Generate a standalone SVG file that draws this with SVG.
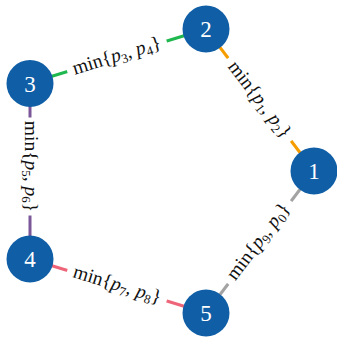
<svg xmlns="http://www.w3.org/2000/svg" width="337" height="339" viewBox="0 0 337 339">
  <style>
    .node circle { fill: #0f5ea6; }
    .node text { fill: #ffffff; font-family: "Liberation Serif", "DejaVu Serif", serif; font-size: 23px; text-anchor: middle; }
    .edge { stroke-width: 3; fill: none; }
    .lbl rect { fill: #ffffff; }
    .lbl text { fill: #111111; font-family: "Liberation Serif", "DejaVu Serif", serif; font-size: 19.5px; text-anchor: middle; }
    .it { font-style: italic; }
    .sub { font-size: 13px; }
  </style>
  <rect width="337" height="339" fill="#ffffff"/>

  <!-- connectors with their sloped labels -->
  <g id="connectors">
    <line class="edge" x1="206" y1="29" x2="314" y2="171" stroke="#f59d00"/>
    <line class="edge" x1="206" y1="29" x2="30" y2="83" stroke="#1fb84f"/>
    <line class="edge" x1="30" y1="83" x2="30" y2="259" stroke="#7b5799"/>
    <line class="edge" x1="30" y1="259" x2="206" y2="313" stroke="#ee6579"/>
    <line class="edge" x1="206" y1="313" x2="314" y2="171" stroke="#a3a3a3"/>

    <g class="lbl" transform="translate(117,56.5) rotate(-17.06)">
      <rect x="-52" y="-12" width="104" height="24"/>
      <text y="5">min{<tspan class="it">p</tspan><tspan class="sub" dy="3.5">3</tspan><tspan dy="-3.5">, </tspan><tspan class="it">p</tspan><tspan class="sub" dy="3.5">4</tspan><tspan dy="-3.5">}</tspan></text>
    </g>
    <g class="lbl" transform="translate(259,100) rotate(52.7)">
      <rect x="-52" y="-12" width="104" height="24"/>
      <text y="5">min{<tspan class="it">p</tspan><tspan class="sub" dy="3.5">1</tspan><tspan dy="-3.5">, </tspan><tspan class="it">p</tspan><tspan class="sub" dy="3.5">2</tspan><tspan dy="-3.5">}</tspan></text>
    </g>
    <g class="lbl" transform="translate(30,166.5) rotate(90)">
      <rect x="-49" y="-12" width="98" height="24"/>
      <text y="5">min{<tspan class="it">p</tspan><tspan class="sub" dy="3.5">5</tspan><tspan dy="-3.5">, </tspan><tspan class="it">p</tspan><tspan class="sub" dy="3.5">6</tspan><tspan dy="-3.5">}</tspan></text>
    </g>
    <g class="lbl" transform="translate(117,285.5) rotate(17.06)">
      <rect x="-52" y="-12" width="104" height="24"/>
      <text y="5">min{<tspan class="it">p</tspan><tspan class="sub" dy="3.5">7</tspan><tspan dy="-3.5">, </tspan><tspan class="it">p</tspan><tspan class="sub" dy="3.5">8</tspan><tspan dy="-3.5">}</tspan></text>
    </g>
    <g class="lbl" transform="translate(259,242) rotate(-52.7)">
      <rect x="-52" y="-12" width="104" height="24"/>
      <text y="5">min{<tspan class="it">p</tspan><tspan class="sub" dy="3.5">9</tspan><tspan dy="-3.5">, </tspan><tspan class="it">p</tspan><tspan class="sub" dy="3.5">0</tspan><tspan dy="-3.5">}</tspan></text>
    </g>
  </g>

  <!-- nodes -->
  <g id="node1" class="node"><circle cx="314" cy="171" r="23.5"/><text x="314" y="179">1</text></g>
  <g id="node2" class="node"><circle cx="206" cy="29" r="23.5"/><text x="206" y="37">2</text></g>
  <g id="node3" class="node"><circle cx="30" cy="83.5" r="23.5"/><text x="30" y="91.5">3</text></g>
  <g id="node4" class="node"><circle cx="30" cy="259" r="23.5"/><text x="30" y="267">4</text></g>
  <g id="node5" class="node"><circle cx="206" cy="313" r="23.5"/><text x="206" y="321">5</text></g>
</svg>
